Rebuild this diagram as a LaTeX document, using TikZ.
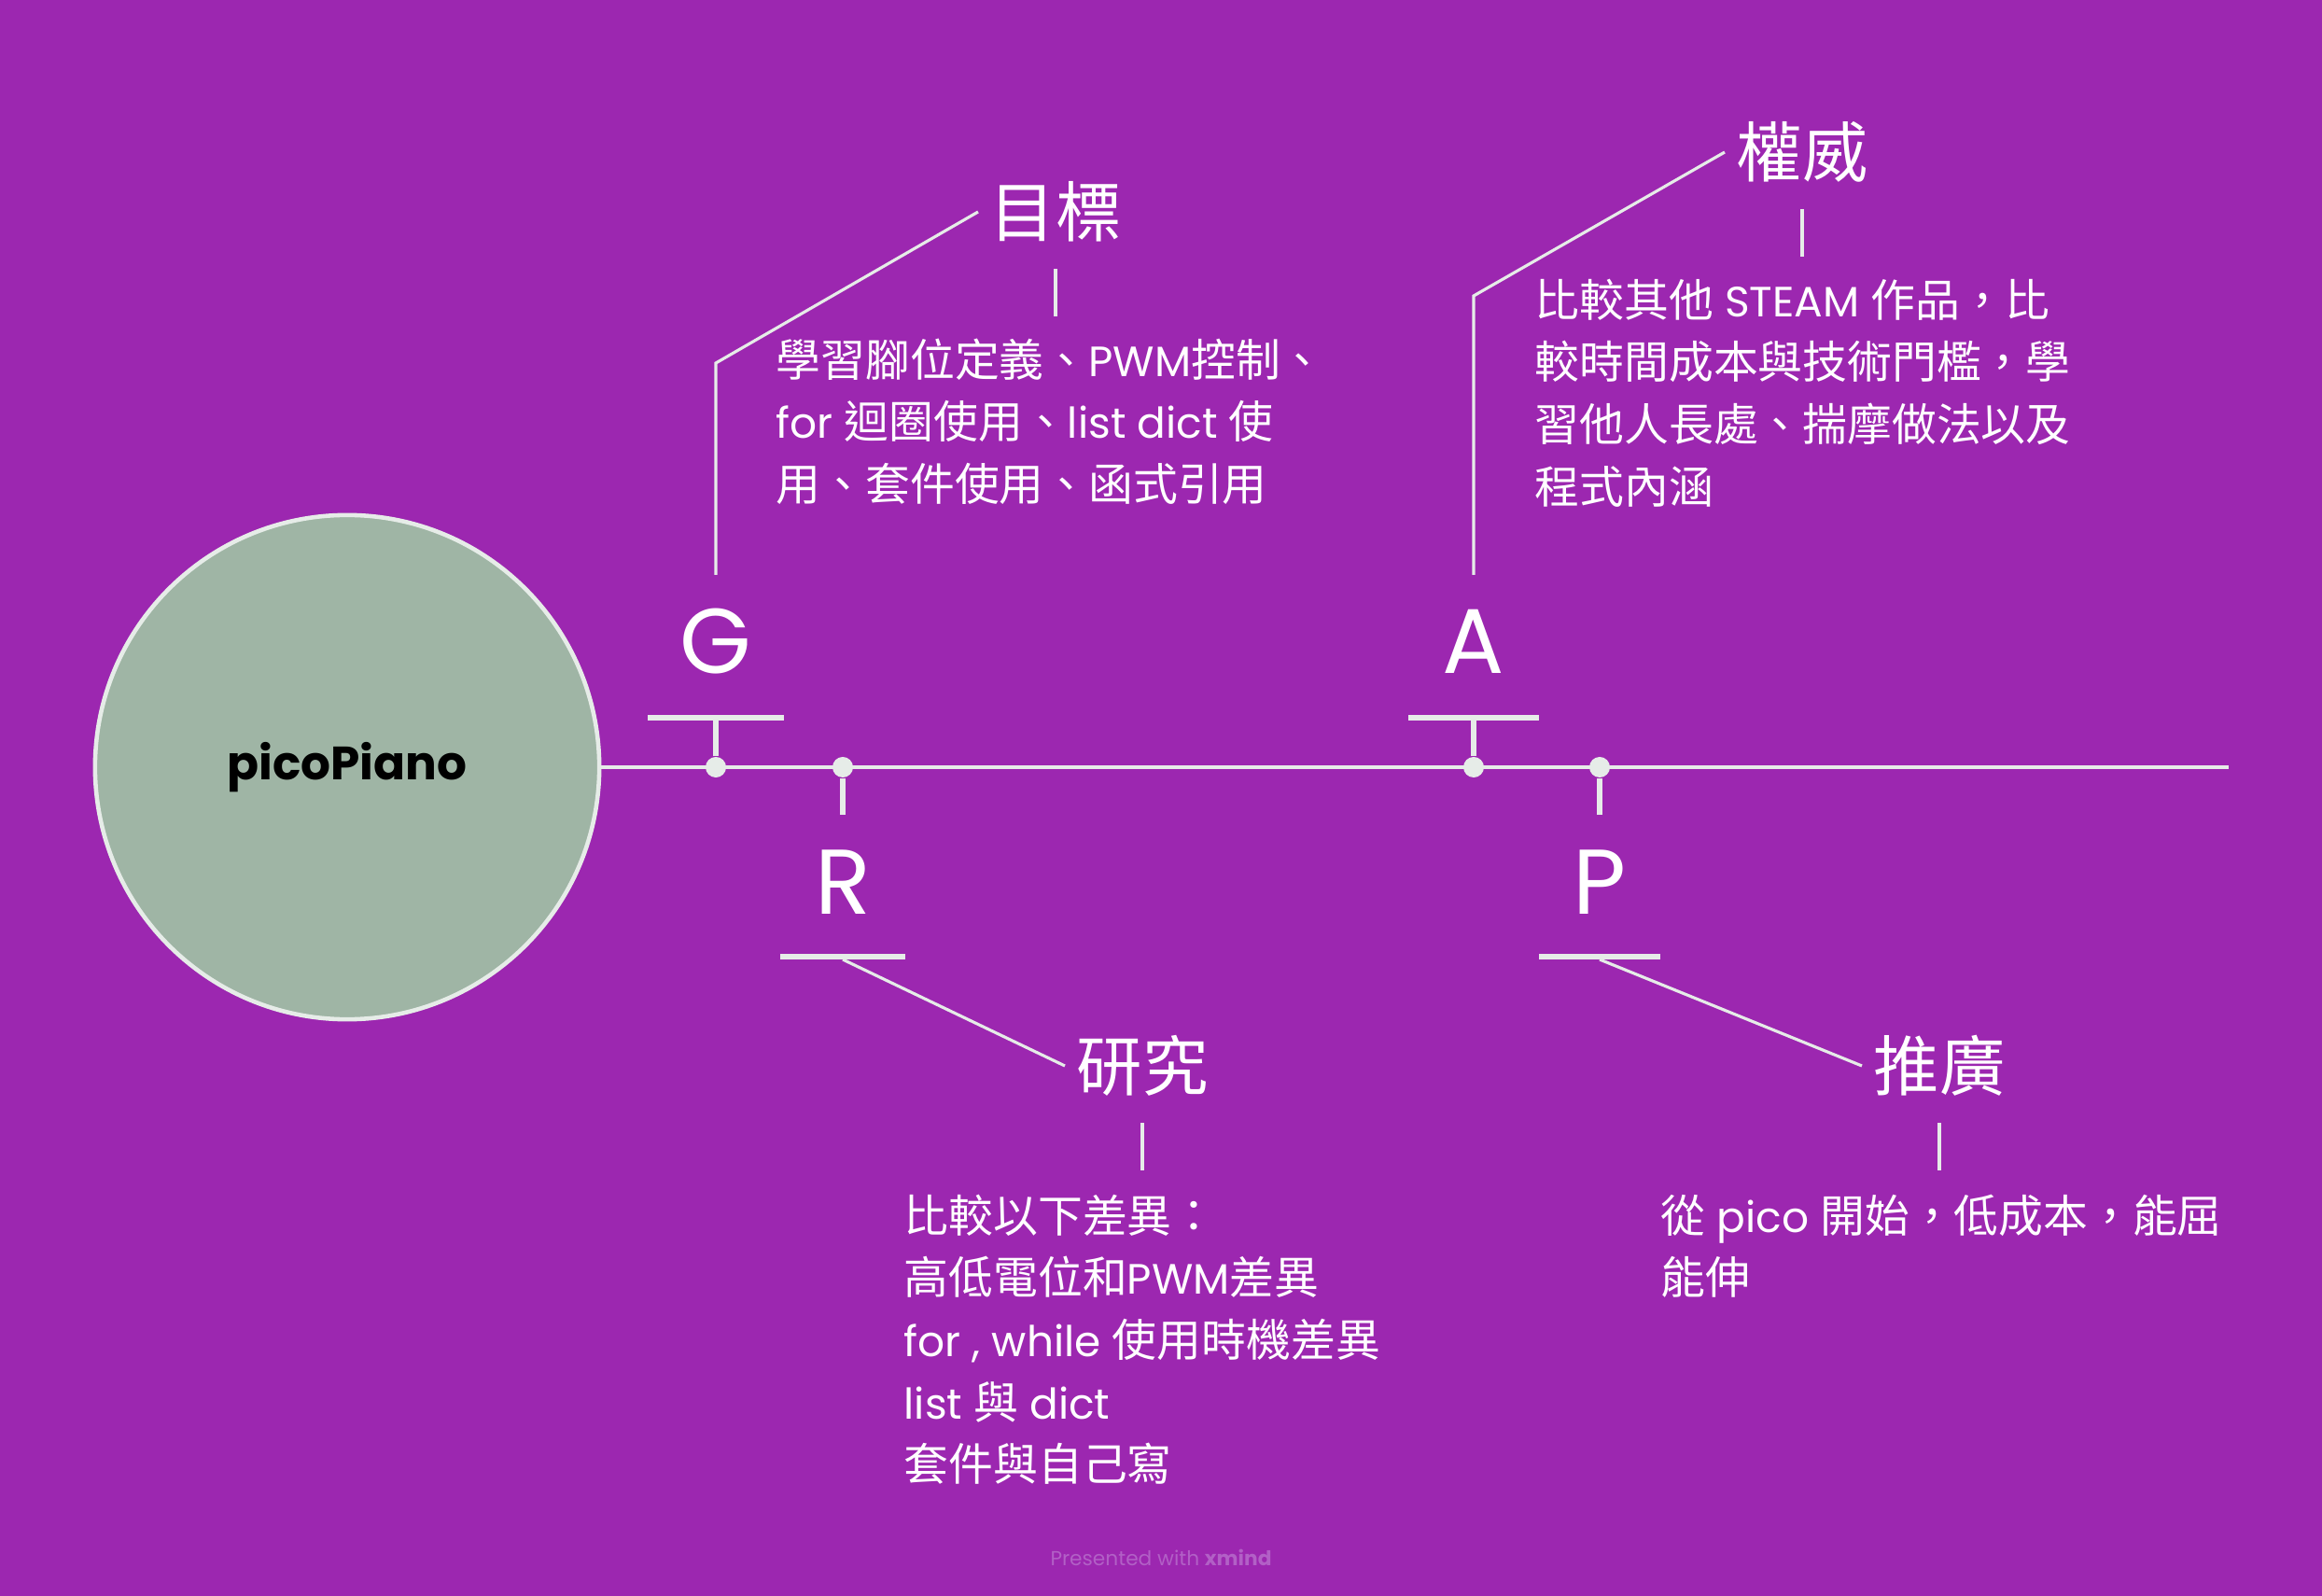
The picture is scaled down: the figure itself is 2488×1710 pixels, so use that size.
\documentclass[tikz,border=0pt]{standalone}
\usepackage{fontspec}
\setmainfont{Poppins}[Scale=0.95]
\newfontfamily\cjk{Noto Sans CJK TC}
\usetikzlibrary{positioning,calc}
\definecolor{cBg}{RGB}{156,39,176}
\definecolor{cSage}{RGB}{159,181,165}
\definecolor{cLine}{RGB}{230,236,232}
\definecolor{cFoot}{RGB}{178,96,198}
\newcommand{\zh}[1]{{\cjk #1}}
\tikzset{
  rootnode/.style={circle,draw=cLine,line width=1.3pt,fill=cSage,
                   minimum size=5.4cm,inner sep=0pt,text=black,
                   font=\bfseries\fontsize{15}{18}\selectfont},
  letternode/.style={anchor=base,inner sep=0pt,text=white,
                     font=\fontsize{29.5}{33}\selectfont},
  titlenode/.style={anchor=west,inner xsep=0.12cm,inner ysep=0pt,text=white,
                    font=\cjk\fontsize{20}{24}\selectfont},
  bodynode/.style={anchor=north west,inner sep=0pt,text=white,align=left,
                   font=\fontsize{13.6}{18.95}\selectfont},
  jointdot/.style={circle,fill=cLine,inner sep=0pt,minimum size=0.22cm},
  spine/.style={draw=cLine,line width=1.4pt},
  barline/.style={draw=cLine,line width=1.6pt},
  stemline/.style={draw=cLine,line width=1.6pt},
  twig/.style={draw=cLine,line width=0.9pt}
}
\begin{document}
\begin{tikzpicture}[x=0.01cm,y=-0.01cm]

  \path[fill=cBg,use as bounding box] (0,0) rectangle (2488,1710);

  % centre and spine
  \node[rootnode] (root) at (372,822) {picoPiano};
  \coordinate (spineEnd) at (2388,822);
  \draw[spine] (root.east) -- (spineEnd);

  % G branch (top)
  \node[jointdot] (gDot) at (767,822) {};
  \coordinate (gBar) at (767,769);
  \draw[stemline] (gDot) -- (gBar);
  \draw[barline] ($(gBar)+(-73,0)$) -- ($(gBar)+(73,0)$);
  \node[letternode] (gLet) at (767,722) {G};
  \node[titlenode] (goalT) at (1048,227) {目標};
  \draw[twig] (767,616) -- (767,389) -- (goalT.west);
  \draw[twig] ($(goalT.south)+(0,28)$) -- ++(0,51);
  \node[bodynode] (goalB) at (831,362)
      {\zh{學習腳位定義、}PWM\zh{控制、}\\
       for \zh{迴圈使用、}list dict \zh{使}\\
       \zh{用、套件使用、函式引用}};

  % R branch (bottom)
  \node[jointdot] (rDot) at (903,822) {};
  \draw[stemline] (rDot) -- (903,873);
  \node[letternode] (rLet) at (903,979) {R};
  \coordinate (rBar) at (903,1025);
  \draw[barline] ($(rBar)+(-67,0)$) -- ($(rBar)+(67,0)$);
  \node[titlenode] (resT) at (1141,1142) {研究};
  \draw[twig] ($(rBar)+(0,3)$) -- (resT.west);
  \draw[twig] ($(resT.south)+(0,28)$) -- ++(0,51);
  \node[bodynode] (resB) at (968,1279)
      {\zh{比較以下差異：}\\
       \zh{高低電位和}PWM\zh{差異}\\
       for , while \zh{使用時機差異}\\
       list \zh{與} dict\\
       \zh{套件與自己寫}};

  % A branch (top)
  \node[jointdot] (aDot) at (1579,822) {};
  \coordinate (aBar) at (1579,769);
  \draw[stemline] (aDot) -- (aBar);
  \draw[barline] ($(aBar)+(-70,0)$) -- ($(aBar)+(70,0)$);
  \node[letternode] (aLet) at (1579,722) {A};
  \node[titlenode] (authT) at (1848,163) {權威};
  \draw[twig] (1579,616) -- (1579,317) -- (authT.west);
  \draw[twig] ($(authT.south)+(0,28)$) -- ++(0,51);
  \node[bodynode] (authB) at (1644,298)
      {\zh{比較其他} STEAM \zh{作品，比}\\
       \zh{較時間成本與技術門檻，學}\\
       \zh{習他人長處、揣摩做法以及}\\
       \zh{程式內涵}};

  % P branch (bottom)
  \node[jointdot] (pDot) at (1714,822) {};
  \draw[stemline] (pDot) -- (1714,873);
  \node[letternode] (pLet) at (1714,979) {P};
  \coordinate (pBar) at (1714,1025);
  \draw[barline] ($(pBar)+(-65,0)$) -- ($(pBar)+(65,0)$);
  \node[titlenode] (promT) at (1995,1142) {推廣};
  \draw[twig] ($(pBar)+(0,3)$) -- (promT.west);
  \draw[twig] ($(promT.south)+(0,28)$) -- ++(0,51);
  \node[bodynode] (promB) at (1779,1279)
      {\zh{從} pico \zh{開始，低成本，能屈}\\
       \zh{能伸}};

  \node[text=cFoot,font=\fontsize{6.5}{8}\selectfont] (foot) at (1244,1669)
      {Presented with \textbf{xmind}};

\end{tikzpicture}
\end{document}
